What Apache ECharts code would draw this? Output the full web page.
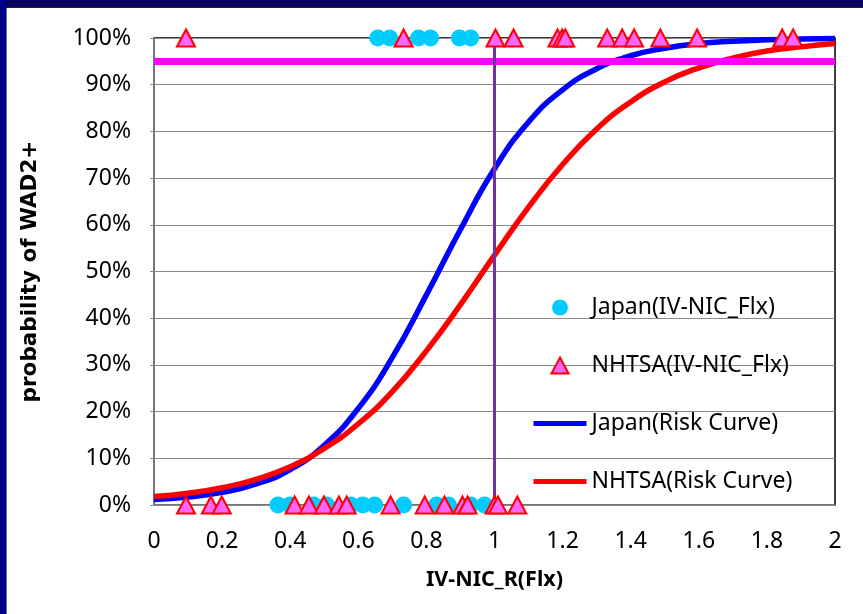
<!DOCTYPE html>
<html><head><meta charset="utf-8">
<script src="https://cdn.jsdelivr.net/npm/echarts@6/dist/echarts.min.js"></script>
<style>html,body{margin:0;padding:0;background:#fff}#chart{width:863px;height:614px}</style>
</head><body><div id="chart"></div>
<script>
// Japan observations (IV-NIC_R(Flx)) and outcome (100 = WAD2+, 0 = none)
const japanX = [0.657, 0.692, 0.777, 0.812, 0.897, 0.930,
                0.364, 0.399, 0.469, 0.507, 0.578, 0.613, 0.648, 0.733, 0.830, 0.865, 0.930, 0.971];
const japanY = [100, 100, 100, 100, 100, 100,
                0, 0, 0, 0, 0, 0, 0, 0, 0, 0, 0, 0];
// NHTSA observations
const nhtsaX = [0.094, 0.733, 1.003, 1.056, 1.185, 1.199, 1.208, 1.331, 1.375, 1.410, 1.487, 1.595, 1.845, 1.877,
                0.094, 0.167, 0.199, 0.413, 0.455, 0.499, 0.543, 0.566, 0.695, 0.795, 0.853, 0.906, 0.921, 1.000, 1.010, 1.067];
const nhtsaY = [100, 100, 100, 100, 100, 100, 100, 100, 100, 100, 100, 100, 100, 100,
                0, 0, 0, 0, 0, 0, 0, 0, 0, 0, 0, 0, 0, 0, 0, 0];
// Risk curves read at x = 0, 0.1, ..., 2.0
const curveX = [0, 0.1, 0.2, 0.3, 0.4, 0.5, 0.6, 0.7, 0.8, 0.9, 1.0, 1.1, 1.2, 1.3, 1.4, 1.5, 1.6, 1.7, 1.8, 1.9, 2.0];
const japanCurve = [1.2, 1.7, 2.7, 4.5, 7.6, 12.8, 20.7, 31.6, 45.0, 59.0, 72.0, 82.0, 88.9, 93.4, 96.2, 97.8, 98.8, 99.3, 99.6, 99.8, 99.9];
const nhtsaCurve = [1.8, 2.5, 3.7, 5.5, 8.2, 12.1, 17.4, 24.3, 33.0, 42.9, 53.5, 63.8, 72.9, 80.5, 86.3, 90.6, 93.6, 95.7, 97.2, 98.1, 98.8];
const thresholdY = 95;
const referenceX = 1;
const seriesNames = ['Japan(IV-NIC_Flx)', 'NHTSA(IV-NIC_Flx)', 'Japan(Risk Curve)', 'NHTSA(Risk Curve)'];

const zip = (xs, ys) => xs.map((x, i) => [x, ys[i]]);
const chart = echarts.init(document.getElementById('chart'));
const FONT = 'Noto Sans';
chart.setOption({
  backgroundColor: '#ffffff',
  animation: false,
  textStyle: { fontFamily: FONT },
  graphic: [
    { type: 'rect', left: 0, top: 0, shape: { width: 863, height: 7 }, style: { fill: '#05055e' }, z: 100 },
    { type: 'rect', left: 0, top: 0, shape: { width: 6, height: 614 }, style: { fill: '#00008a' }, z: 100 },
    { type: 'rect', left: 6, top: 7, shape: { width: 1, height: 607 }, style: { fill: '#777' }, z: 100 },
    { type: 'rect', left: 6, top: 7, shape: { width: 857, height: 1 }, style: { fill: '#222' }, z: 100 }
  ],
  grid: { left: 154, right: 28, top: 38, bottom: 109, show: true, borderColor: '#000', borderWidth: 1.5, backgroundColor: 'transparent' },
  legend: {
    orient: 'vertical', left: 526, top: 291,
    itemWidth: 53, itemHeight: 16, itemGap: 35,
    symbolKeepAspect: true,
    textStyle: { fontSize: 23, color: '#000', fontFamily: FONT },
    data: [
      { name: seriesNames[0], itemStyle: { color: '#00ccff', opacity: 1 } },
      { name: seriesNames[1], icon: 'path://M8,0 L16,15 L0,15 Z',
        itemStyle: { color: '#ff66ff', borderColor: '#ff0000', borderWidth: 2, opacity: 1 } },
      { name: seriesNames[2], itemStyle: { opacity: 0 }, lineStyle: { width: 5, color: '#0000ff' } },
      { name: seriesNames[3], itemStyle: { opacity: 0 }, lineStyle: { width: 5, color: '#ff0000' } }
    ]
  },
  xAxis: {
    type: 'value', min: 0, max: 2, interval: 0.2,
    name: 'IV-NIC_R(Flx)', nameLocation: 'middle', nameGap: 64,
    nameTextStyle: { fontSize: 21.5, fontWeight: 'bold', color: '#000' },
    axisLine: { show: true, lineStyle: { color: '#888', width: 1.5 } },
    axisTick: { show: false },
    splitLine: { show: false },
    axisLabel: { fontSize: 23, color: '#000', margin: 25, formatter: v => String(+v.toFixed(1)) }
  },
  yAxis: {
    type: 'value', min: 0, max: 100, interval: 10,
    name: 'probability of WAD2+', nameLocation: 'middle', nameGap: 113,
    nameTextStyle: { fontSize: 21.5, fontWeight: 'bold', color: '#000', fontFamily: 'DejaVu Sans' },
    axisLine: { show: true, lineStyle: { color: '#888', width: 1.5 } },
    axisTick: { show: true, length: 4, lineStyle: { color: '#888' } },
    splitLine: { show: true, lineStyle: { color: '#8a8a8a', width: 1 } },
    axisLabel: { fontSize: 23, color: '#000', margin: 23, formatter: '{value}%' }
  },
  series: [
    {
      name: seriesNames[0], type: 'scatter', symbol: 'circle', symbolSize: 17,
      itemStyle: { color: '#00ccff', opacity: 1 }, data: zip(japanX, japanY), z: 6, clip: false
    },
    {
      name: seriesNames[1], type: 'scatter', symbol: 'triangle', symbolSize: [18, 17],
      itemStyle: { color: '#ff66ff', borderColor: '#ff0000', borderWidth: 2, opacity: 1 }, data: zip(nhtsaX, nhtsaY), z: 7, clip: false
    },
    {
      name: seriesNames[2], type: 'line', smooth: true, symbol: 'none',
      lineStyle: { color: '#0000ff', width: 5.5 }, itemStyle: { color: '#0000ff' },
      data: zip(curveX, japanCurve), z: 3
    },
    {
      name: seriesNames[3], type: 'line', smooth: true, symbol: 'none',
      lineStyle: { color: '#ff0000', width: 5.5 }, itemStyle: { color: '#ff0000' },
      data: zip(curveX, nhtsaCurve), z: 3,
      markLine: {
        silent: true, symbol: 'none', label: { show: false },
        data: [
          { yAxis: thresholdY, lineStyle: { color: '#ff00ff', width: 7, type: 'solid' } },
          { xAxis: referenceX, lineStyle: { color: '#7030a0', width: 3, type: 'solid' } }
        ]
      }
    }
  ]
});
</script></body></html>
